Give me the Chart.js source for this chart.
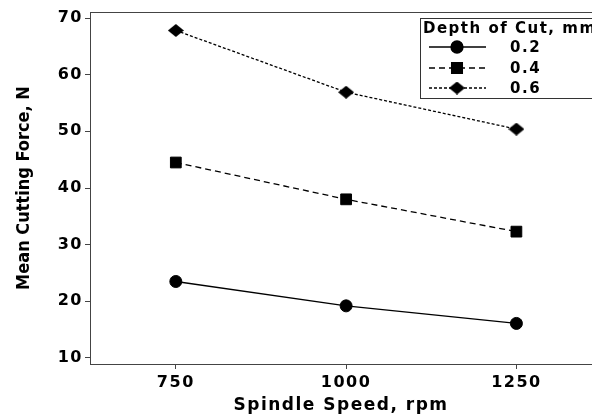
<!DOCTYPE html>
<html>
<head>
<meta charset="utf-8">
<script src="https://cdn.jsdelivr.net/npm/chart.js@4.4.0/dist/chart.umd.min.js"></script>
<style>
  html, body { margin: 0; padding: 0; background: #fff; }
  #wrap { width: 592px; height: 417px; }
</style>
</head>
<body>
<div id="wrap"><canvas id="myChart" width="592" height="417"></canvas></div>
<script>
// spindle speeds and mean cutting force for each depth of cut
var speeds = [750, 1000, 1250];
var depths = ['0.2', '0.4', '0.6'];
var force02 = [23.5, 19.2, 16.1];
var force04 = [44.5, 38.0, 32.3];
var force06 = [67.8, 56.9, 50.4];
var yTicks = [10, 20, 30, 40, 50, 60, 70];

var axisColor = '#444';
var spacing = '1.5px';

function pts(vals) {
  var out = [];
  for (var i = 0; i < speeds.length; i++) {
    out.push({x: speeds[i], y: vals[i]});
  }
  return out;
}

// slightly wide diamond marker
function diamond(w, h) {
  var c = document.createElement('canvas');
  c.width = w;
  c.height = h;
  var g = c.getContext('2d');
  g.fillStyle = '#000';
  g.beginPath();
  g.moveTo(w / 2, 0);
  g.lineTo(w, h / 2);
  g.lineTo(w / 2, h);
  g.lineTo(0, h / 2);
  g.closePath();
  g.fill();
  return c;
}

function series(label, vals, style, radius, dash) {
  return {
    label: label,
    data: pts(vals),
    borderColor: '#000',
    backgroundColor: '#000',
    borderWidth: 1.3,
    borderDash: dash,
    pointStyle: style,
    pointRadius: radius,
    pointBorderWidth: 1,
    tension: 0
  };
}

// wider text spacing for all horizontal labels
var wideText = {
  id: 'wideText',
  beforeLayout: function(chart) { chart.ctx.letterSpacing = spacing; },
  beforeDraw: function(chart) { chart.ctx.letterSpacing = spacing; }
};

// y title, top frame line and the boxed legend
var extras = {
  id: 'extras',
  afterDraw: function(chart) {
    var ctx = chart.ctx;
    var a = chart.chartArea;
    ctx.save();
    ctx.strokeStyle = axisColor;
    ctx.lineWidth = 1;
    ctx.beginPath();
    ctx.moveTo(a.left, a.top + 0.5);
    ctx.lineTo(a.right, a.top + 0.5);
    ctx.stroke();

    ctx.save();
    ctx.letterSpacing = '0px';
    ctx.translate(24, (a.top + a.bottom) / 2);
    ctx.rotate(-Math.PI / 2);
    ctx.fillStyle = '#000';
    ctx.font = 'bold 18px "DejaVu Sans Condensed"';
    ctx.textAlign = 'center';
    ctx.textBaseline = 'middle';
    ctx.fillText('Mean Cutting Force, N', 0, 0);
    ctx.restore();

    var bx = 420.5, by = 18.5, bw = 180, bh = 80;
    ctx.fillStyle = '#fff';
    ctx.fillRect(bx, by, bw, bh);
    ctx.strokeStyle = '#333';
    ctx.strokeRect(bx, by, bw, bh);

    ctx.letterSpacing = spacing;
    ctx.fillStyle = '#000';
    ctx.font = 'bold 15px "DejaVu Sans"';
    ctx.textBaseline = 'middle';
    ctx.textAlign = 'left';
    ctx.fillText('Depth of Cut, mm', 423, 29);

    var rows = [47, 68, 88];
    chart.data.datasets.forEach(function(ds, i) {
      var y = rows[i];
      ctx.strokeStyle = '#000';
      ctx.lineWidth = ds.borderWidth;
      ctx.setLineDash(ds.borderDash || []);
      ctx.beginPath();
      ctx.moveTo(429, y);
      ctx.lineTo(486, y);
      ctx.stroke();
      ctx.setLineDash([]);
      Chart.helpers.drawPoint(ctx, {
        pointStyle: ds.pointStyle,
        radius: ds.pointRadius,
        rotation: 0,
        borderWidth: 1
      }, 457, y);
      ctx.fillStyle = '#000';
      ctx.fill();
      ctx.font = 'bold 15px "DejaVu Sans"';
      ctx.fillText(ds.label, 510, y + 1);
    });
    ctx.restore();
  }
};

var ctx = document.getElementById('myChart').getContext('2d');
var chart = new Chart(ctx, {
  type: 'line',
  data: {
    datasets: [
      series(depths[0], force02, 'circle', 6, []),
      series(depths[1], force04, 'rect', 7.6, [6, 4]),
      series(depths[2], force06, diamond(16, 13), 7, [3, 2])
    ]
  },
  options: {
    responsive: false,
    animation: false,
    events: [],
    layout: { autoPadding: false, padding: { top: 12, right: 0, bottom: 0, left: 0 } },
    plugins: {
      legend: { display: false },
      tooltip: { enabled: false }
    },
    scales: {
      x: {
        type: 'linear',
        min: 624,
        max: 1361,
        afterBuildTicks: function(s) { s.ticks = speeds.map(function(v) { return {value: v}; }); },
        afterFit: function(s) { s.height = 53; s.paddingLeft = 0; s.paddingRight = 0; },
        grid: { drawOnChartArea: false, drawTicks: true, tickLength: 5, color: axisColor },
        border: { color: axisColor, width: 1 },
        ticks: {
          color: '#000',
          padding: 4,
          maxRotation: 0,
          font: { family: 'DejaVu Sans', weight: 'bold', size: 16 },
          callback: function(v) { return String(v); }
        },
        title: {
          display: true,
          text: 'Spindle Speed, rpm',
          color: '#000',
          padding: { top: 0, bottom: 1 },
          font: { family: 'DejaVu Sans', weight: 'bold', size: 17 }
        }
      },
      y: {
        min: 8.94,
        max: 71.06,
        afterBuildTicks: function(s) { s.ticks = yTicks.map(function(v) { return {value: v}; }); },
        afterFit: function(s) { s.width = 90; s.paddingTop = 0; s.paddingBottom = 0; },
        grid: { drawOnChartArea: false, drawTicks: true, tickLength: 5, color: axisColor },
        border: { color: axisColor, width: 1 },
        ticks: {
          color: '#000',
          padding: 2,
          font: { family: 'DejaVu Sans', weight: 'bold', size: 16 }
        }
      }
    }
  },
  plugins: [wideText, extras]
});
</script>
</body>
</html>
